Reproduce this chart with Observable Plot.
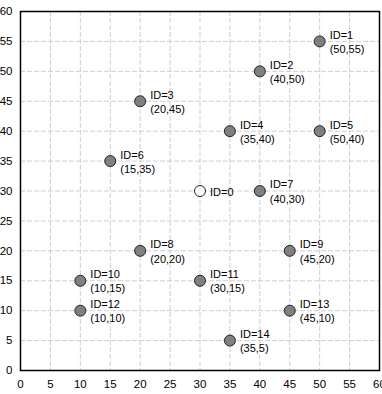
<!DOCTYPE html>
<html><head><meta charset="utf-8">
<script src="https://cdn.jsdelivr.net/npm/d3@7"></script>
<script src="https://cdn.jsdelivr.net/npm/@observablehq/plot@0.6"></script>
<style>body{margin:0;background:#fff;} svg{display:block;}</style>
</head><body><div id="chart"></div>
<script>
const ids = [0,1,2,3,4,5,6,7,8,9,10,11,12,13,14];
const xs = [30,50,40,20,35,50,15,40,20,45,10,30,10,45,35];
const ys = [30,55,50,45,40,40,35,30,20,20,15,15,10,10,5];
const ticks = [0,5,10,15,20,25,30,35,40,45,50,55,60];

const data = ids.map((id,i)=>({id, x: xs[i], y: ys[i],
  label: id === 0 ? `ID=${id}` : `ID=${id}\n(${xs[i]},${ys[i]})`}));

const chart = Plot.plot({
  width: 382, height: 394,
  marginLeft: 20, marginRight: 3, marginTop: 11, marginBottom: 24,
  style: {fontFamily: "Liberation Sans, Arial, sans-serif", fontSize: "11px", background: "#fff"},
  x: {domain: [0,60], label: null},
  y: {domain: [0,60], label: null},
  marks: [
    Plot.gridX(ticks, {stroke: "#c4c4c4", strokeOpacity: 1, strokeDasharray: "5,2", strokeWidth: 0.8}),
    Plot.gridY(ticks, {stroke: "#c4c4c4", strokeOpacity: 1, strokeDasharray: "5,2", strokeWidth: 0.8}),
    Plot.axisX({ticks, tickSize: 0, tickPadding: 9, fontSize: 11.5, fill: "#000", label: null}),
    Plot.axisY({ticks, tickSize: 0, tickPadding: 8, fontSize: 11.5, fill: "#000", label: null}),
    Plot.frame({stroke: "#000", strokeWidth: 1.5}),
    Plot.dot(data, {x: "x", y: "y", r: 5.5, fill: d => d.id === 0 ? "#fff" : "#808080", stroke: "#222", strokeWidth: 1}),
    Plot.text(data, {x: "x", y: "y", text: "label", textAnchor: "start", dx: 10, lineAnchor: "middle", fontSize: 11, fill: "#000", lineHeight: 1.3})
  ]
});
document.getElementById("chart").appendChild(chart);
</script></body></html>
